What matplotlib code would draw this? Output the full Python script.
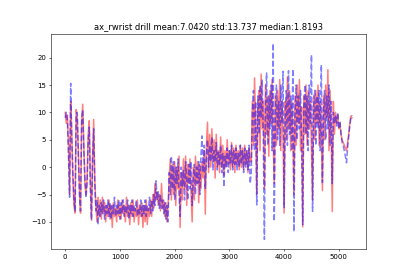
"""
Plot of the ax_rwrist channel for the "drill" activity:
red solid line = first signal, blue dashed line = second signal.
Values are sampled every STEP frames.

Run:
  python plot.py
"""

import numpy as np
import matplotlib

matplotlib.use("Agg")
import matplotlib.pyplot as plt  # noqa: E402


# ============================================================
# PARAMETERS
# ============================================================

TITLE = "ax_rwrist drill mean:7.0420 std:13.737 median:1.8193"
OUT_PATH = "out.png"
STEP = 20  # frames between stored samples
LINE_WIDTH = 2.2

# frames 0..540 (start, large swings)
red_start = [10, 8, 9.5, 4, -5, 12, 6, -2, -7, -8.4, 10.5, 9, 3, -4, -8.4, 8, 11.5, 4,
             -3, -5, -2, 6, 8.5, -3, -9.7, 2, 8.7, -2]
blue_start = [9, 10, 8.5, 2, -5.5, 15.3, 5, -1, -6, -8, 9.5, 10, 2, -5, -8, 9, 10.5, 3,
              -2, -5.6, -3, 5, 7.3, -4, -9.6, 1, 7, -3]

# frames 560..1880 (low plateau)
red_low = [-7, -10, -5.5, -9, -6, -9.5, -5.5, -8.5, -6.5, -10,
           -7, -9, -6, -9.5, -7, -11, -6.5, -9, -7.5, -10,
           -6, -9, -7, -9.5, -6, -8.5, -7, -10, -5.5, -9,
           -7, -10.5, -6.5, -9, -6, -10, -7.5, -9, -6, -10.5,
           -7, -9, -6.5, -11, -7, -10, -6, -10.5, -7.5, -9,
           -6, -9, -5, -7.5, -3, -6, -4.5, -7, -5, -8,
           -3, -7.5, -6, -9, -6.5, -10, -7]
blue_low = [-8, -6, -10.5, -7, -9, -6.5, -8.5, -6, -9.5, -7,
            -8.5, -6, -9, -6.5, -9.5, -7, -8.5, -5.5, -9, -7,
            -8.5, -6, -9.5, -6.5, -8.5, -6, -9, -7, -8.5, -6,
            -9.5, -7, -8.5, -6, -9, -7, -8, -6, -9, -7.5,
            -8.5, -6, -9, -7, -8.5, -6, -9, -7, -8, -5.5,
            -8.5, -6, -8, -5, -7, -2.5, -6, -4.5, -7.5, -5,
            -7.5, -6, -8.5, -6.5, -9.5, -7, -10]

# frames 1900..3380 (middle plateau)
red_mid = [-2, 1.5, -6, 0.5, -5, 1, -7, 0, -4, 2,
           -11, -1, -6, 1.5, -4, 2, -7, 0.5, -3, 1.5,
           -5, -10, 0, -6, 2, -3, 1, -6.5, 0.5, -4,
           1, -2, 3, -8.6, 4, 8.2, -1, 6, 0, 7,
           1, 5, -2, 6, 0, 3, -1, 5.5, 0, 4,
           -1.5, 3, 0, 5, 0.5, 3, -0.5, 4.5, 0, 3.5,
           -1, 4, 0.5, 3, -0.5, 4, 0, 3.5, -0.5, 4,
           0.5, 3, -1, 3.5, 1]
blue_mid = [-1, -5, 2, -4, 1, -6, 0, -3, 1.5, -5,
            -9, 0, -3.5, -0.5, -6, 1, -2, -6, 0.5, -4,
            1, -7, -2, 0.5, -5, 0, -3, 1, -5, 2,
            5.7, -1, 4, -4, 2, 5, 0, 4, 1, 5.5,
            -0.5, 3, 1, 4.5, -0.5, 3, 0.5, 4, -1, 2.5,
            -3.6, 2, 0, 3.5, -1, 3, 0.5, 4, -0.5, 3,
            0.5, 3.5, -0.5, 2.5, 0, 4, 0.5, 3, -1, 3.5,
            0, 3, -0.5, 4, -3]

# frames 3400..5240 (drilling, periodic deep dips)
red_drill = [1, 12, 4, 16.3, 8, -5, 10, 14, 3, 17,
             7, 12, -4, 15, 6, 13, 2, 14, 8, 16,
             5, -3, 13, 4, 14, 7, 16, 3, 12, 6,
             -8.4, 12, 5, 16.5, 7, 14, 3, 12, 6, -5,
             13, 4, 15, 8, 16, 3, 11, -10.9, 13, 6,
             15, 4, 14, 7, 12, 3, -6, 13, 5, 14,
             8, 15, 4, 12, 6, -4.3, 13, 5, 15, 9,
             17.8, 3, 14, 6, -8.1, 12, 6, 10, 8, 9.5,
             7, 8, 6, 5, 4.5, 4, 3.5, 3, 4.5, 6,
             8, 9.3, 9]
blue_drill = [-1, 10, 14, 3, 12, -6.9, 13, 6, 15, 9,
              16, 5, -13.2, 12, 17.2, 4, 13, 7, 15, 3,
              22.6, -9.9, 10, 15, 5, 12, 4, 15, 8, 17.5,
              -7.4, 9, 14, 4, 17.6, 6, 13, 3, 17.9, -11.8,
              10, 15, 5, 13, 7, 14, 4, -10.5, 11, 15,
              6, 13, 3, 15, 8, 20.5, -8.1, 11, 14, 4,
              13, 7, 14, 3, 18.7, -2.8, 10, 14, 5, 13,
              7, 15, 4, 12, -3, 10, 8, 9.5, 7.5, 10,
              7, 8.5, 6, 4.5, 4, 3, 2, 0.8, 3.5, 5.5,
              7.5, 9, 9.5]


def main():
    red = np.array(red_start + red_low + red_mid + red_drill, dtype=float)
    blue = np.array(blue_start + blue_low + blue_mid + blue_drill, dtype=float)
    frames = np.arange(len(red)) * STEP

    fig, ax = plt.subplots(figsize=(8.14, 5.6), dpi=50)
    ax.plot(frames, red, color="r", alpha=0.5, linewidth=LINE_WIDTH)
    ax.plot(frames, blue, color="b", alpha=0.5, linestyle="--", linewidth=LINE_WIDTH)
    ax.set_title(TITLE)

    fig.savefig(OUT_PATH, dpi=50)
    print("[OK] wrote", OUT_PATH)


if __name__ == "__main__":
    main()
